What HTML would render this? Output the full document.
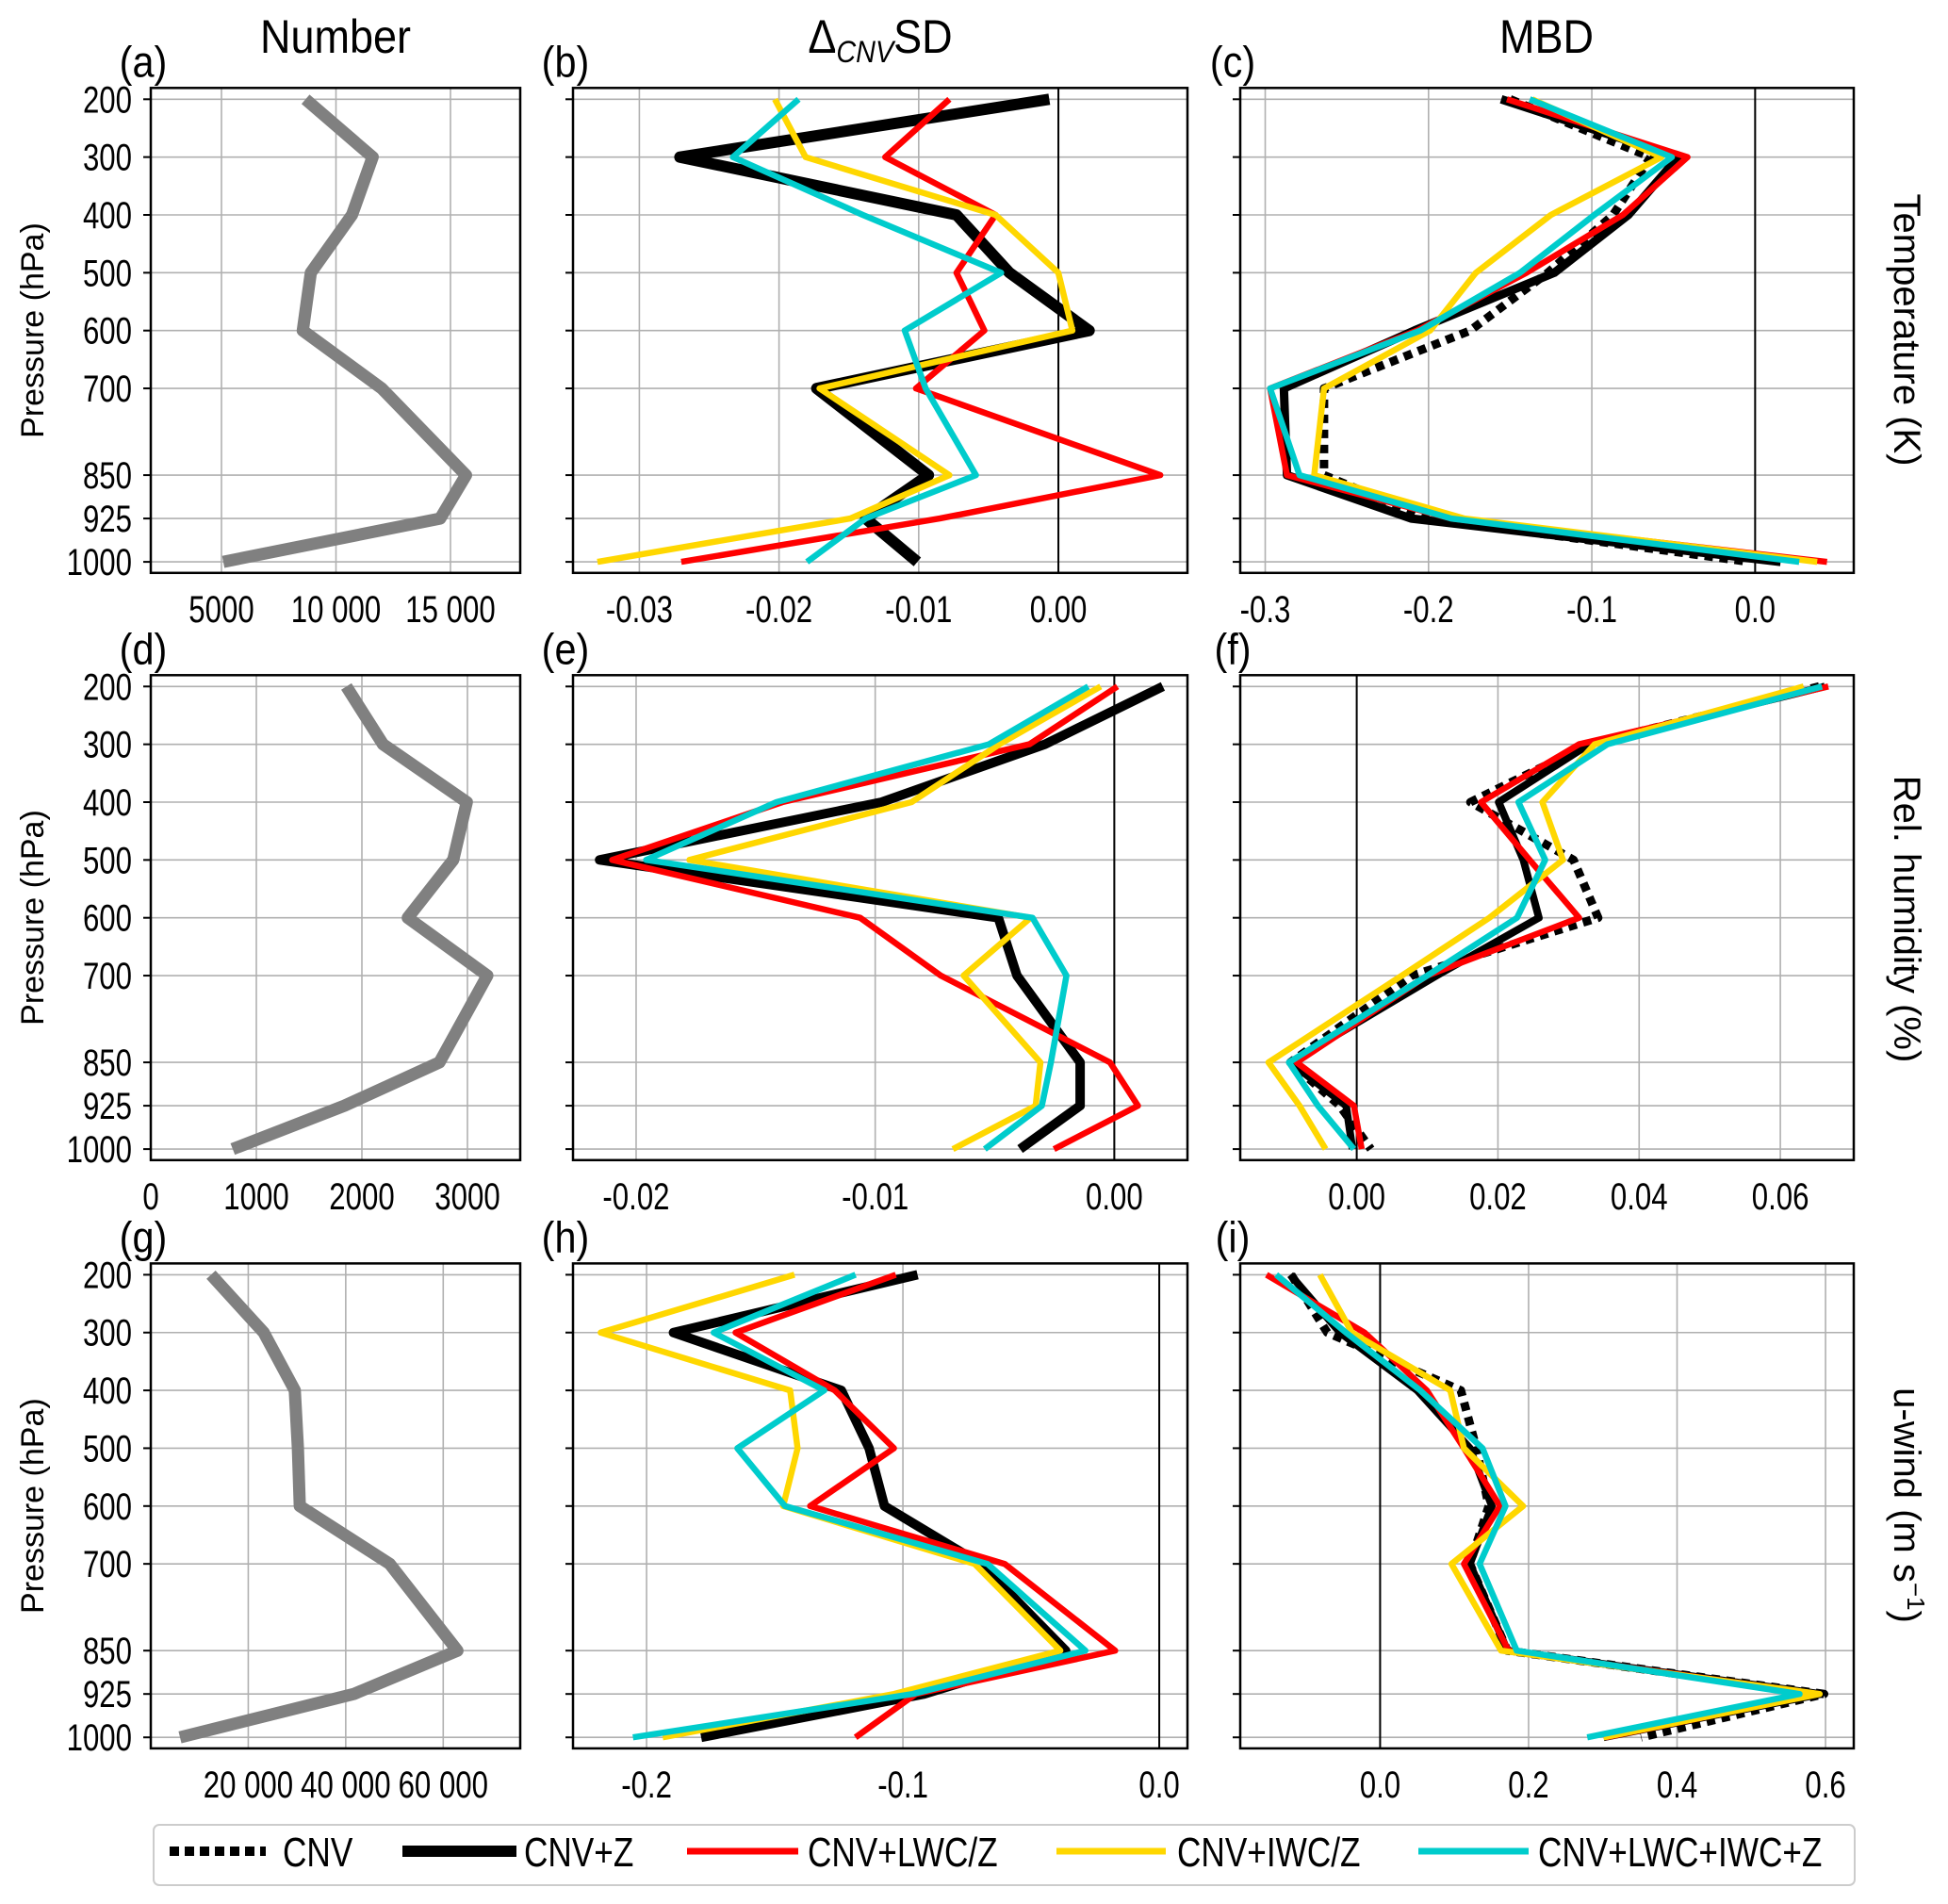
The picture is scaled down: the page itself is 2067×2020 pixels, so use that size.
<!DOCTYPE html>
<html><head><meta charset="utf-8">
<style>
html,body{margin:0;padding:0;background:#fff;}
svg{display:block;font-family:"Liberation Sans",Arial,sans-serif;}
</style></head>
<body>
<svg id="fig" width="2067" height="2020" viewBox="0 0 2067 2020" xmlns="http://www.w3.org/2000/svg">
  <text x="356" y="56" font-size="50" text-anchor="middle" transform="translate(356,0) scale(0.9,1) translate(-356,0)">Number</text>
  <text x="934" y="56" font-size="50" text-anchor="middle" transform="translate(934,0) scale(0.9,1) translate(-934,0)">Δ<tspan font-style="italic" font-size="32" dy="10">CNV</tspan><tspan dy="-10">SD</tspan></text>
  <text x="1641" y="56" font-size="50" text-anchor="middle" transform="translate(1641,0) scale(0.9,1) translate(-1641,0)">MBD</text>
  <text transform="translate(2010,350) rotate(90)" font-size="40" text-anchor="middle">Temperature (K)</text>
  <text transform="translate(2010,975) rotate(90)" font-size="40" text-anchor="middle">Rel. humidity (%)</text>
  <text transform="translate(2010,1597) rotate(90)" font-size="40" text-anchor="middle">u-wind (m s<tspan font-size="26" dy="-14">−1</tspan><tspan dy="14">)</tspan></text>
  <g id="panels"></g>
  <g>
    <rect x="163" y="1936" width="1805" height="64" rx="6" fill="#fff" stroke="#ccc" stroke-width="2"/>
    <line x1="180" y1="1964" x2="282" y2="1964" stroke="#000" stroke-width="10" stroke-dasharray="10,6"/>
    <text x="300" y="1980" font-size="44" transform="translate(300,0) scale(0.8,1) translate(-300,0)">CNV</text>
    <line x1="427" y1="1964" x2="548" y2="1964" stroke="#000" stroke-width="12"/>
    <text x="556" y="1980" font-size="44" transform="translate(556,0) scale(0.8,1) translate(-556,0)">CNV+Z</text>
    <line x1="729" y1="1964" x2="847" y2="1964" stroke="#ff0000" stroke-width="7"/>
    <text x="857" y="1980" font-size="44" transform="translate(857,0) scale(0.8,1) translate(-857,0)">CNV+LWC/Z</text>
    <line x1="1121" y1="1964" x2="1237" y2="1964" stroke="#ffd700" stroke-width="7"/>
    <text x="1249" y="1980" font-size="44" transform="translate(1249,0) scale(0.8,1) translate(-1249,0)">CNV+IWC/Z</text>
    <line x1="1505" y1="1964" x2="1622" y2="1964" stroke="#00cccc" stroke-width="7"/>
    <text x="1632" y="1980" font-size="44" transform="translate(1632,0) scale(0.8,1) translate(-1632,0)">CNV+LWC+IWC+Z</text>
  </g>
</svg>
<script>
const levels = [200,300,400,500,600,700,850,925,1000];
// (a)-(c) Temperature
const numT = [8670,11600,10700,8900,8550,12000,15680,14550,5080];
const sdT_cnvz = [-0.00065,-0.0271,-0.0073,-0.0035,0.0022,-0.0173,-0.0093,-0.0138,-0.0101];
const sdT_lwc  = [-0.0078,-0.0124,-0.0045,-0.0073,-0.0053,-0.0102,0.0073,-0.0085,-0.027];
const sdT_iwc  = [-0.0203,-0.0181,-0.0045,0.0,0.001,-0.0171,-0.0078,-0.0149,-0.033];
const sdT_all  = [-0.0186,-0.0233,-0.014,-0.0041,-0.011,-0.0095,-0.0059,-0.0138,-0.018];
const mbdT_cnv  = [-0.15,-0.064,-0.087,-0.127,-0.1745,-0.264,-0.264,-0.2,-0.0034];
const mbdT_cnvz = [-0.1555,-0.0471,-0.0776,-0.123,-0.2087,-0.2886,-0.2867,-0.2106,0.0156];
const mbdT_lwc  = [-0.152,-0.0414,-0.081,-0.14,-0.207,-0.297,-0.2867,-0.186,0.044];
const mbdT_iwc  = [-0.1365,-0.0574,-0.125,-0.171,-0.199,-0.264,-0.27,-0.178,0.038];
const mbdT_all  = [-0.138,-0.051,-0.0985,-0.144,-0.205,-0.297,-0.279,-0.186,0.027];
// (d)-(f) Relative humidity
const numH = [1853,2200,2994,2865,2435,3188,2735,1835,776];
const sdH_cnvz = [0.00203,-0.0029,-0.00973,-0.02153,-0.00485,-0.00407,-0.00143,-0.00143,-0.00394];
const sdH_lwc  = [0.00013,-0.00355,-0.01388,-0.021,-0.01063,-0.00726,-0.00018,0.00099,-0.00252];
const sdH_iwc  = [-0.00057,-0.0048,-0.00848,-0.01777,-0.0035,-0.0063,-0.00309,-0.00329,-0.00675];
const sdH_all  = [-0.00109,-0.00524,-0.01413,-0.01958,-0.00342,-0.002,-0.00265,-0.00303,-0.00542];
const mbdH_cnv  = [0.0655,0.0329,0.0161,0.0307,0.0342,0.0078,-0.0094,-0.0024,0.002];
const mbdH_cnvz = [0.0663,0.0329,0.0201,0.0236,0.0258,0.0113,-0.0094,-0.0015,-0.0006];
const mbdH_lwc  = [0.0668,0.0315,0.0176,0.0245,0.0315,0.01,-0.0085,-0.0004,0.0007];
const mbdH_iwc  = [0.0633,0.0337,0.0263,0.0292,0.0188,0.0064,-0.0125,-0.0081,-0.0044];
const mbdH_all  = [0.0659,0.0355,0.0229,0.0267,0.0227,0.01,-0.0096,-0.0055,-0.0004];
// (g)-(i) u-wind
const numU = [12360,23180,29550,30190,30570,49040,62930,41660,5990];
const sdU_cnvz = [-0.0943,-0.1895,-0.124,-0.1132,-0.1072,-0.0696,-0.0365,-0.0917,-0.1787];
const sdU_lwc  = [-0.1028,-0.1653,-0.1266,-0.1035,-0.1362,-0.0603,-0.0172,-0.095,-0.1185];
const sdU_iwc  = [-0.1423,-0.2179,-0.144,-0.1411,-0.1467,-0.072,-0.0386,-0.1035,-0.1937];
const sdU_all  = [-0.1185,-0.1738,-0.1307,-0.1646,-0.146,-0.067,-0.0288,-0.0962,-0.2053];
const mbdU_cnv  = [-0.1197,-0.0711,0.1088,0.1297,0.1464,0.121,0.1715,0.598,0.3515];
const mbdU_cnvz = [-0.121,-0.054,0.05,0.121,0.1506,0.121,0.1715,0.594,0.301];
const mbdU_lwc  = [-0.153,-0.021,0.063,0.113,0.1615,0.113,0.173,0.59,0.304];
const mbdU_iwc  = [-0.081,-0.038,0.0946,0.113,0.1925,0.0962,0.163,0.592,0.301];
const mbdU_all  = [-0.14,-0.046,0.054,0.138,0.169,0.134,0.184,0.565,0.279];
// tick labels
const ticksA = [5000,10000,15000]; const labelsA = ["5000","10 000","15 000"];
const ticksB = [-0.03,-0.02,-0.01,0.0]; const labelsB = ["-0.03","-0.02","-0.01","0.00"];
const ticksC = [-0.3,-0.2,-0.1,0.0]; const labelsC = ["-0.3","-0.2","-0.1","0.0"];
const ticksD = [0,1000,2000,3000]; const labelsD = ["0","1000","2000","3000"];
const ticksE = [-0.02,-0.01,0.0]; const labelsE = ["-0.02","-0.01","0.00"];
const ticksF = [0.0,0.02,0.04,0.06]; const labelsF = ["0.00","0.02","0.04","0.06"];
const ticksG = [20000,40000,60000]; const labelsG = ["20 000","40 000","60 000"];
const ticksH = [-0.2,-0.1,0.0]; const labelsH = ["-0.2","-0.1","0.0"];
const ticksI = [0.0,0.2,0.4,0.6]; const labelsI = ["0.0","0.2","0.4","0.6"];

const NS = "http://www.w3.org/2000/svg";
const root = document.getElementById("panels");
function mk(tag, attrs, parent){ const e=document.createElementNS(NS,tag); for(const k in attrs) e.setAttribute(k,attrs[k]); (parent||root).appendChild(e); return e; }

const cols = [{l:160,r:552},{l:608,r:1260},{l:1316,r:1967}];
const rowTops = [93.3,716.3,1340.4];
const PH = 514.5;

function panel(col,row,xlim,ticks,labels,series,letter,leftLabels,zeroLine){
  const L=cols[col].l,R=cols[col].r,T=rowTops[row],B=T+PH;
  const xs = v => L + (v-xlim[0])/(xlim[1]-xlim[0])*(R-L);
  const ys = p => T + 12 + (p-200)*0.6135;
  const g = mk("g",{});
  
  
  const lx=L-8;
  const lab = mk("text",{x:lx,y:T-12,"font-size":46,"text-anchor":"middle",transform:`translate(${lx},0) scale(0.9,1) translate(${-lx},0)`},g);
  
  
  lab.textContent="("+letter+")";
  ticks.forEach((t,i)=>{
    const x=xs(t);
    const gl=mk("line",{x1:x,x2:x,y1:T,y2:B,stroke:"#b0b0b0","stroke-width":1.6},g);
    
    
    const tl=mk("text",{x:x,y:B+52,"font-size":40,"text-anchor":"middle",transform:`translate(${x},0) scale(0.78,1) translate(${-x},0)`},g);
    
    
    tl.textContent=labels[i];
  });
  levels.forEach(p=>{
    const y=ys(p);
    const gl=mk("line",{x1:L,x2:R,y1:y,y2:y,stroke:"#b0b0b0","stroke-width":1.6},g);
    
    
    const tk=mk("line",{x1:L-8,x2:L,y1:y,y2:y,stroke:"#000","stroke-width":2},g);
    
    
    if(leftLabels){
      const tl=mk("text",{x:L-20,y:y+14,"font-size":40,"text-anchor":"end",transform:`translate(${L-20},0) scale(0.78,1) translate(${-(L-20)},0)`},g);
      
      
      tl.textContent=String(p);
    }
  });
  if(zeroLine){
    const z=mk("line",{x1:xs(0),x2:xs(0),y1:T,y2:B,stroke:"#000","stroke-width":2},g);
    
    
  }
  series.forEach(s=>{
    const pts = s.v.map((v,i)=>xs(v).toFixed(1)+","+ys(levels[i]).toFixed(1)).join(" ");
    const pl=mk("polyline",{points:pts,fill:"none",stroke:s.c,"stroke-width":s.w,"stroke-linejoin":"round","stroke-linecap":"butt"},g);
    if(s.d) pl.setAttribute("stroke-dasharray",s.d);
    
    
  });
  const fr=mk("rect",{x:L,y:T,width:R-L,height:PH,fill:"none",stroke:"#000","stroke-width":2.5},g);
  
  
  if(leftLabels){
    const yl=mk("text",{transform:`translate(${46},${T+PH/2}) rotate(-90)`,"font-size":34,"text-anchor":"middle"},g);
    
    
    yl.textContent="Pressure (hPa)";
  }
}
function five(a,b,c,d,e,bw){
  const out=[];
  if(a) out.push({v:a,c:"#000",w:9,d:"9,7",n:"line-cnv"});
  out.push({v:b,c:"#000",w:bw,n:"line-cnv-z"});
  out.push({v:c,c:"#ff0000",w:6.5,n:"line-cnv-lwc-z"});
  out.push({v:d,c:"#ffd700",w:6.5,n:"line-cnv-iwc-z"});
  out.push({v:e,c:"#00cccc",w:6.5,n:"line-cnv-lwc-iwc-z"});
  return out;
}
const gray = v=>[{v:v,c:"#808080",w:13,n:"line-number"}];
panel(0,0,[1914,18045],ticksA,labelsA,gray(numT),"a",true,false);
panel(1,0,[-0.03475,0.00924],ticksB,labelsB,five(null,sdT_cnvz,sdT_lwc,sdT_iwc,sdT_all,12),"b",false,true);
panel(2,0,[-0.3153,0.0604],ticksC,labelsC,five(mbdT_cnv,mbdT_cnvz,mbdT_lwc,mbdT_iwc,mbdT_all,9),"c",false,true);
panel(0,1,[0,3500],ticksD,labelsD,gray(numH),"d",true,false);
panel(1,1,[-0.02264,0.00306],ticksE,labelsE,five(null,sdH_cnvz,sdH_lwc,sdH_iwc,sdH_all,10),"e",false,true);
panel(2,1,[-0.0165,0.0704],ticksF,labelsF,five(mbdH_cnv,mbdH_cnvz,mbdH_lwc,mbdH_iwc,mbdH_all,8),"f",false,true);
panel(0,2,[0,75800],ticksG,labelsG,gray(numU),"g",true,false);
panel(1,2,[-0.2287,0.011],ticksH,labelsH,five(null,sdU_cnvz,sdU_lwc,sdU_iwc,sdU_all,10),"h",false,true);
panel(2,2,[-0.1884,0.638],ticksI,labelsI,five(mbdU_cnv,mbdU_cnvz,mbdU_lwc,mbdU_iwc,mbdU_all,8),"i",false,true);
</script>
</body></html>
